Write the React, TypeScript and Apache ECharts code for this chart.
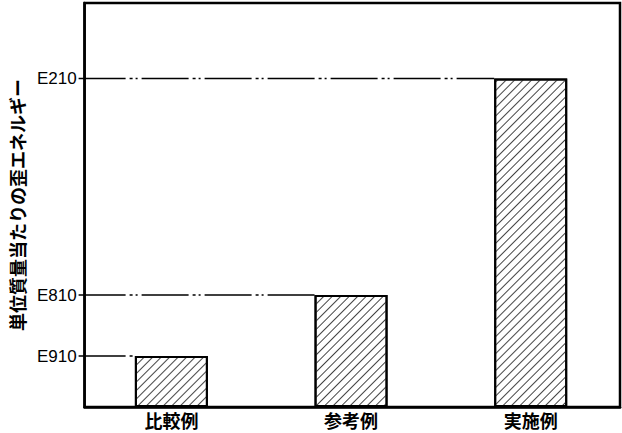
import React, { useEffect, useRef } from "react";
import * as echarts from "echarts";

const categories = ["比較例", "参考例", "実施例"];
const positions = [0, 1, 2];
const values = [12.6, 27.7, 81.3];
const tickLabels = ["E910", "E810", "E210"];
const yName = "単位質量当たりの歪エネルギー";

export default function App() {
  const ref = useRef<HTMLDivElement>(null);
  useEffect(() => {
    document.body.style.margin = "0";
    const chart = echarts.init(ref.current!, null, { renderer: "svg" });
    const barW = 73;
    chart.setOption({
      animation: false,
      backgroundColor: "#fff",
      grid: {
        left: 80,
        right: 2,
        top: 3,
        bottom: 26,
        show: true,
        borderColor: "#000",
        borderWidth: 2.5,
        containLabel: false,
      },
      xAxis: {
        type: "value",
        min: -0.483,
        max: 2.497,
        splitLine: { show: false },
        axisTick: { show: false },
        axisLine: { show: true, onZero: false, lineStyle: { color: "#000", width: 2.5 } },
        axisLabel: {
          customValues: positions,
          color: "#000",
          fontSize: 18,
          fontWeight: "bold",
          fontFamily: "Noto Sans CJK JP",
          margin: 4,
          formatter: (v: number) => {
            const i = positions.indexOf(v);
            return i >= 0 ? categories[i] : "";
          },
        },
      },
      yAxis: {
        type: "value",
        min: 0,
        max: 100,
        name: yName,
        nameLocation: "middle",
        nameGap: 57,
        nameRotate: 90,
        nameTextStyle: {
          color: "#000",
          fontSize: 18,
          fontWeight: "bold",
          fontFamily: "Noto Sans CJK JP",
        },
        splitLine: { show: false },
        axisTick: { show: false },
        axisLine: { show: true, onZero: false, lineStyle: { color: "#000", width: 2.5 } },
        axisLabel: {
          customValues: values,
          color: "#000",
          fontSize: 17,
          fontFamily: "Liberation Sans",
          margin: 8,
          formatter: (v: number) => {
            const i = values.indexOf(v);
            return i >= 0 ? tickLabels[i] : "";
          },
        },
      },
      series: [
        {
          type: "custom",
          z: 1,
          silent: true,
          data: values.map((v, i) => [positions[i], v]),
          encode: { x: 0, y: 1 },
          renderItem: (params: any, api: any) => {
            const p = api.coord([api.value(0), api.value(1)]);
            const left = p[0] - barW / 2;
            return {
              type: "line",
              shape: { x1: params.coordSys.x - 6, y1: p[1], x2: left, y2: p[1] },
              style: {
                stroke: "#000",
                lineWidth: 1.5,
                lineDash: [47, 4, 3, 3, 2, 4],
              },
            };
          },
        },
        {
          type: "bar",
          z: 2,
          data: values.map((v, i) => [positions[i], v]),
          barWidth: barW,
          itemStyle: {
            color: "#fff",
            borderColor: "#000",
            borderWidth: 2,
            decal: {
              symbol: "rect",
              symbolSize: 1,
              dashArrayX: [1, 0],
              dashArrayY: [1, 5],
              rotation: -Math.PI / 4,
              color: "#444",
              backgroundColor: "#fff",
            },
          },
        },
      ],
    });
    return () => chart.dispose();
  }, []);
  return <div ref={ref} style={{ width: 622, height: 433 }} />;
}
